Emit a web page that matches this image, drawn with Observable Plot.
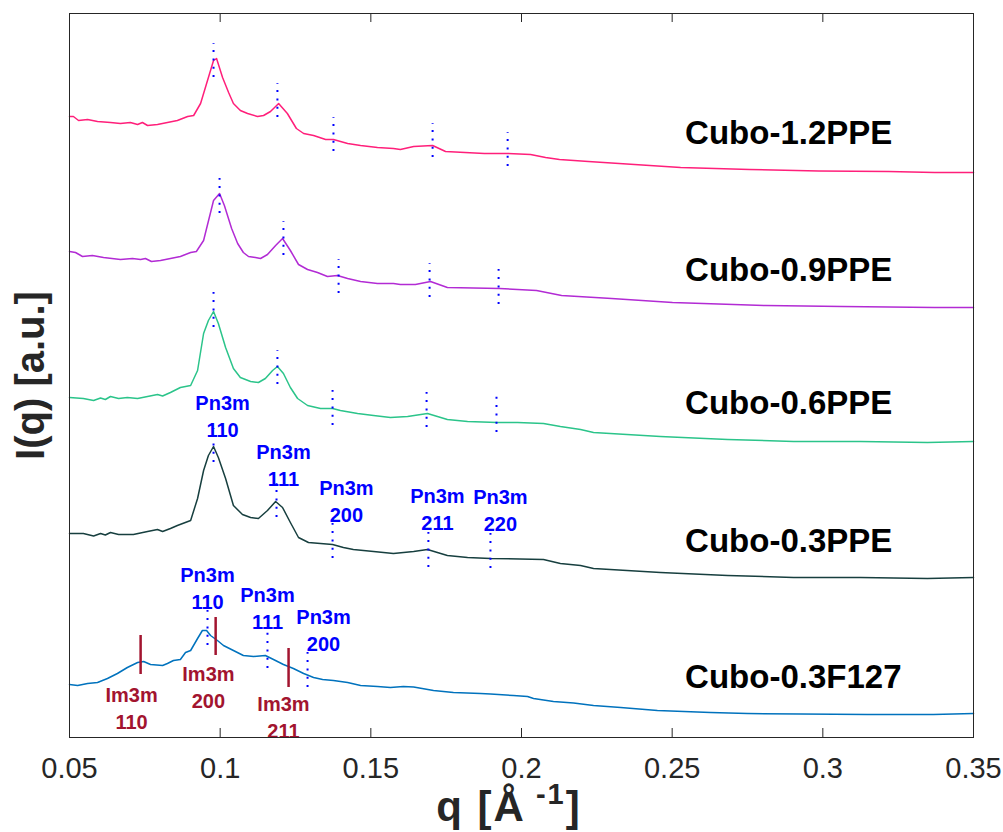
<!DOCTYPE html>
<html><head><meta charset="utf-8">
<script src="https://cdn.jsdelivr.net/npm/d3@7"></script>
<script src="https://cdn.jsdelivr.net/npm/@observablehq/plot@0.6"></script>
<style>body{margin:0;background:#fff}</style>
</head><body><div id="chart"></div>
<script>
const FONT = "'Liberation Sans', Arial, Helvetica, sans-serif";

const qTicks = [0.05, 0.1, 0.15, 0.2, 0.25, 0.3, 0.35];
const qTickLabels = ["0.05", "0.1", "0.15", "0.2", "0.25", "0.3", "0.35"];

const seriesNames = ["Cubo-1.2PPE", "Cubo-0.9PPE", "Cubo-0.6PPE", "Cubo-0.3PPE", "Cubo-0.3F127"];
const seriesColors = ["#ff1f7a", "#b22bd4", "#2bc48a", "#173f3f", "#0072bd"];
const seriesLabelI = [604, 467, 334, 196, 60];
const seriesLabelQ = 0.2543;

// [q (1/Å), I (a.u., offset)]
const cubo12PPE = [[0.05,621],[0.0513,621],[0.0530,617],[0.0560,618],[0.0593,616],[0.0636,615],[0.0669,614],[0.0702,615],[0.0726,613],[0.0742,615],[0.0759,612],[0.0792,613],[0.0825,615],[0.0858,617],[0.0892,621],[0.0912,622],[0.0935,634],[0.0955,654],[0.0978,677],[0.0988,679],[0.1008,660],[0.1028,645],[0.1044,634],[0.1067,627],[0.1091,624],[0.1124,621],[0.1144,622],[0.1167,626],[0.1194,634],[0.1223,624],[0.1253,609],[0.1277,604],[0.1310,602],[0.1350,598],[0.1376,598],[0.1423,594],[0.1466,592],[0.1522,590],[0.1575,589],[0.1598,588],[0.1642,591],[0.1705,592],[0.1748,586],[0.1877,584],[0.1954,584],[0.2030,583],[0.2080,580],[0.2126,578],[0.2222,576],[0.2375,573],[0.2528,570],[0.2757,568],[0.2986,566.5],[0.3218,566],[0.3371,565],[0.35,565]];
const cubo09PPE = [[0.05,486],[0.0520,485],[0.0543,481],[0.0576,482],[0.0613,480],[0.0669,478],[0.0709,479],[0.0736,478],[0.0752,479],[0.0772,476],[0.0802,477],[0.0835,479],[0.0868,481],[0.0902,485],[0.0921,486],[0.0945,497],[0.0978,537],[0.0998,544],[0.1014,532],[0.1038,509],[0.1058,494],[0.1077,485],[0.1094,481],[0.1117,480],[0.1134,479],[0.1157,483],[0.1184,492],[0.1207,499],[0.1233,487],[0.1260,473],[0.1290,468],[0.1323,465],[0.1356,461],[0.1389,462],[0.1423,459],[0.1466,456],[0.1522,454],[0.1575,454],[0.1598,453],[0.1648,453],[0.1698,456],[0.1754,450],[0.1927,449],[0.2050,447],[0.2133,442],[0.2299,439],[0.2501,435],[0.2810,432],[0.3065,431],[0.3371,430],[0.35,430]];
const cubo06PPE = [[0.05,340],[0.0546,339],[0.0580,337],[0.0603,339.5],[0.0619,338],[0.0636,341],[0.0663,339],[0.0692,340],[0.0726,339],[0.0759,341],[0.0792,343],[0.0809,341.5],[0.0835,345],[0.0868,350],[0.0902,352],[0.0925,367],[0.0945,404],[0.0961,417],[0.0978,426],[0.0994,414],[0.1018,390],[0.1044,369],[0.1067,360],[0.1101,356],[0.1127,355],[0.1150,359],[0.1174,367],[0.1190,371],[0.1210,364],[0.1233,350],[0.1257,339],[0.1290,332],[0.1333,329],[0.1373,329],[0.1399,327],[0.1456,324],[0.1509,322],[0.1565,320],[0.1622,321],[0.1688,324],[0.1754,318],[0.1821,316],[0.1920,315],[0.1987,315],[0.2073,314],[0.2129,311],[0.2196,308],[0.2239,305],[0.2461,301],[0.2684,298],[0.2903,296],[0.3125,296],[0.3347,295],[0.35,296]];
const cubo03PPE = [[0.05,204],[0.0546,204],[0.0580,201.5],[0.0603,204],[0.0619,202.5],[0.0636,205],[0.0663,203],[0.0712,203],[0.0759,206],[0.0792,208],[0.0809,206],[0.0835,209],[0.0858,212],[0.0902,217],[0.0925,239],[0.0945,267],[0.0961,282],[0.0978,291],[0.0994,280],[0.1018,259],[0.1044,232],[0.1074,223],[0.1101,220],[0.1127,219],[0.1157,227],[0.1184,236],[0.1207,230],[0.1233,215],[0.1260,200],[0.1293,195],[0.1333,194],[0.1373,193],[0.1409,190],[0.1442,188],[0.1509,186],[0.1575,184],[0.1642,186],[0.1688,188],[0.1754,182],[0.1821,180],[0.1897,179],[0.2073,178],[0.2129,174],[0.2196,172],[0.2239,169],[0.2461,165],[0.2684,162],[0.2903,160],[0.3125,160],[0.3347,159],[0.35,160]];
const cubo03F127 = [[0.05,53],[0.0527,52],[0.0560,54],[0.0593,55],[0.0626,59],[0.0659,64],[0.0692,70],[0.0726,75],[0.0746,76],[0.0769,73],[0.0809,72],[0.0825,74],[0.0845,77],[0.0868,78],[0.0885,85],[0.0902,87],[0.0925,99],[0.0941,107],[0.0955,107],[0.0968,102],[0.0991,97],[0.1011,92],[0.1044,87],[0.1077,82],[0.1111,81],[0.1150,82],[0.1177,78],[0.1210,73],[0.1243,69],[0.1277,64],[0.1310,60],[0.1340,58],[0.1376,57],[0.1423,55],[0.1466,52],[0.1522,51],[0.1565,50],[0.1608,51],[0.1642,50.5],[0.1708,47],[0.1774,45],[0.1864,44],[0.1897,43.5],[0.1973,42],[0.2020,41],[0.2040,39],[0.2106,36],[0.2173,34.5],[0.2239,32],[0.2329,30],[0.2451,27],[0.2627,25],[0.2750,24],[0.2926,23.5],[0.3148,23],[0.3367,23],[0.35,24]];

// Pn3m reflection markers: [q, I low, I high]
const pnMarks12 = [[0.0978,660,694],[0.1190,620,654],[0.1376,586,620],[0.1705,580,614],[0.1954,571,605]];
const pnMarks09 = [[0.0998,524,559],[0.1210,482,516],[0.1393,444,478],[0.1695,440,474],[0.1924,433,468]];
const pnMarks06 = [[0.0978,410,445],[0.1190,353,387],[0.1373,312,347],[0.1685,310,345],[0.1917,305,341]];
const pnMarks03 = [[0.0978,275,309],[0.1187,220,254],[0.1373,179,214],[0.1691,170,205],[0.1897,169,204]];
const pnMarksF127 = [[0.0958,92,127],[0.1157,69,105],[0.1290,50,85]];
// Im3m reflection markers
const imMarksF127 = [[0.0736,63,102],[0.0985,82,120],[0.1227,50,89]];

// annotation labels: [q, I, text]
const pnLabels = [[0.1008,322.5,"Pn3m\n110"],[0.1210,273.5,"Pn3m\n111"],[0.1419,238,"Pn3m\n200"],[0.1721,229.5,"Pn3m\n211"],[0.1930,228.5,"Pn3m\n220"],
                  [0.0958,151,"Pn3m\n110"],[0.1157,130.5,"Pn3m\n111"],[0.1343,108.5,"Pn3m\n200"]];
const imLabels = [[0.0706,30.5,"Im3m\n110"],[0.0961,52,"Im3m\n200"],[0.1210,22,"Im3m\n211"]];

const seriesData = [cubo12PPE, cubo09PPE, cubo06PPE, cubo03PPE, cubo03F127];
const lineRows = seriesData.flatMap((arr, k) => arr.map(([q, I]) => ({q, I, name: seriesNames[k]})));
const markRows = [pnMarks12, pnMarks09, pnMarks06, pnMarks03, pnMarksF127].flat().map(([q, lo, hi]) => ({q, lo, hi}));
const imRows = imMarksF127.map(([q, lo, hi]) => ({q, lo, hi}));
const pnLabelRows = pnLabels.map(([q, I, t]) => ({q, I, t}));
const imLabelRows = imLabels.map(([q, I, t]) => ({q, I, t}));
const seriesLabelRows = seriesNames.map((t, k) => ({q: seriesLabelQ, I: seriesLabelI[k], t}));

const plot = Plot.plot({
  width: 1003, height: 832,
  marginTop: 13, marginBottom: 95, marginLeft: 69, marginRight: 30,
  style: {fontFamily: FONT, background: "#fff", color: "#262626"},
  x: {domain: [0.05, 0.35]},
  y: {domain: [0, 724], axis: null},
  color: {domain: seriesNames, range: seriesColors},
  marks: [
    Plot.gridX(qTicks, {stroke: "#262626", strokeOpacity: 1, insetTop: 715}),
    Plot.gridX(qTicks, {stroke: "#262626", strokeOpacity: 1, insetBottom: 715}),
    Plot.axisX(qTicks, {anchor: "bottom", tickSize: 0, tickPadding: 20, fontSize: 29, color: "#262626",
      tickFormat: d => qTickLabels[qTicks.indexOf(d)], label: null}),
    Plot.line(lineRows, {x: "q", y: "I", z: "name", stroke: "name", strokeWidth: 1.5}),
    Plot.ruleX(markRows, {x: "q", y1: "lo", y2: "hi", stroke: "#0000ff", strokeWidth: 2, strokeDasharray: "2,6.3"}),
    Plot.ruleX(imRows, {x: "q", y1: "lo", y2: "hi", stroke: "#a2142f", strokeWidth: 2.5}),
    Plot.text(pnLabelRows, {x: "q", y: "I", text: "t", fill: "#0000ff", fontSize: 20, fontWeight: "bold", lineHeight: 1.35}),
    Plot.text(imLabelRows, {x: "q", y: "I", text: "t", fill: "#a2142f", fontSize: 20, fontWeight: "bold", lineHeight: 1.35}),
    Plot.text(seriesLabelRows, {x: "q", y: "I", text: "t", fill: "#000", fontSize: 33, fontWeight: "bold", textAnchor: "start"}),
    Plot.text(["I(q) [a.u.]"], {frameAnchor: "left", textAnchor: "middle", rotate: -90, dx: -38, fontSize: 40, fontWeight: "bold", fill: "#262626"}),
    Plot.frame({stroke: "#262626"})
  ]
});

const svg = d3.select(plot);
const xl = svg.append("text")
  .attr("x", 509).attr("y", 821)
  .attr("text-anchor", "middle")
  .attr("font-family", FONT).attr("font-size", 42).attr("font-weight", "bold")
  .attr("letter-spacing", 2)
  .attr("fill", "#262626");
xl.append("tspan").text("q [Å");
xl.append("tspan").attr("dy", -17).attr("font-size", 29).text(" -1");
xl.append("tspan").attr("dy", 17).text("]");

document.getElementById("chart").appendChild(plot);
</script>
</body></html>
